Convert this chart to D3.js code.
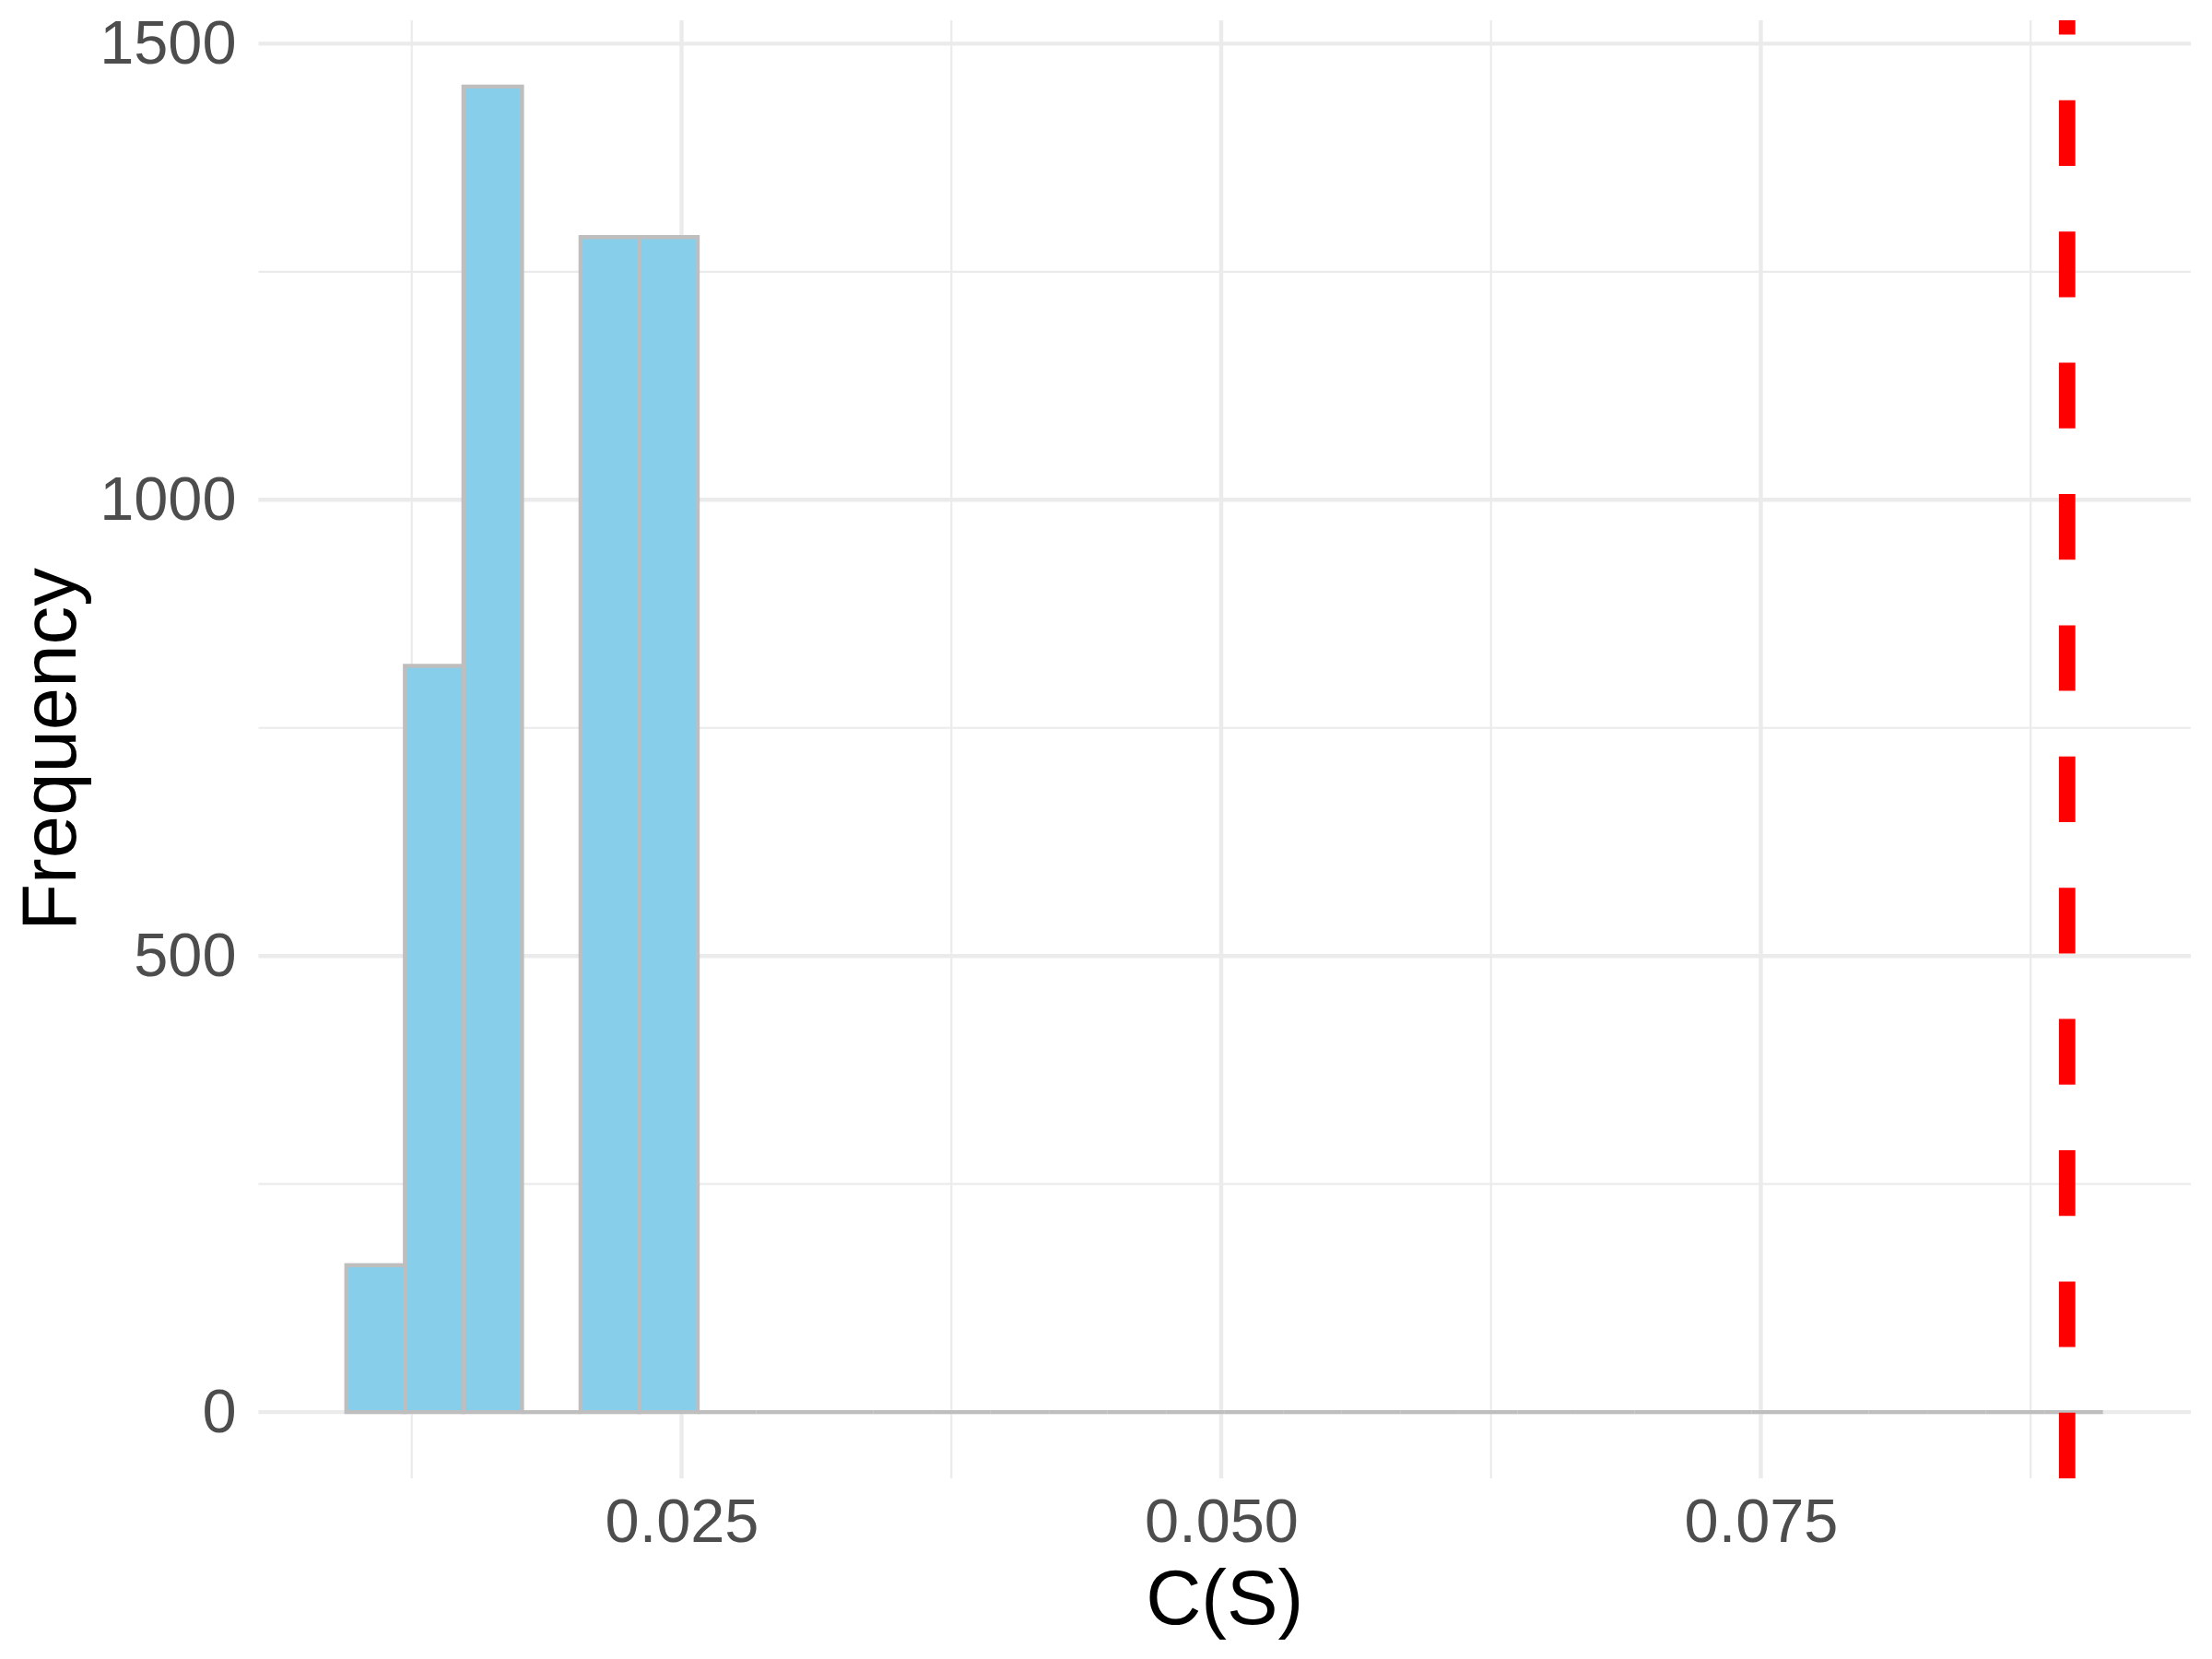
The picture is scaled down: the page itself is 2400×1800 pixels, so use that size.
<!DOCTYPE html>
<html lang="en">
<head>
    <meta charset="UTF-8">
    <title>Histogram of C(S)</title>
    <style>
        body, html {
            margin: 0;
            padding: 0;
            background: #fff;
            overflow: hidden;
        }
        text {
            font-family: "Liberation Sans", Arial, Helvetica, sans-serif;
        }
        .tick-label text {
            fill: #4D4D4D;
            font-size: 66.7px;
        }
        .axis-title {
            fill: #000;
            font-size: 83.3px;
        }
    </style>
</head>
<body>
    <script src="https://d3js.org/d3.v7.min.js"></script>
    <script>
        // histogram bins (30 bins)
        const binStart = 0.00947;
        const binWidth = 0.0027127;
        const counts = [161, 818, 1453, 0, 1288, 1288,
            0, 0, 0, 0, 0, 0, 0, 0, 0, 0, 0, 0,
            0, 0, 0, 0, 0, 0, 0, 0, 0, 0, 0, 0];

        // observed value (red dashed line)
        const observed = 0.08919;

        const xMajor = [0.025, 0.050, 0.075];
        const xMinor = [0.0125, 0.0375, 0.0625, 0.0875];
        const yMajor = [0, 500, 1000, 1500];
        const yMinor = [250, 750, 1250];

        const width = 2400;
        const height = 1800;
        const margin = { top: 22, right: 23, bottom: 196, left: 280.5 };

        const bins = counts.map((c, i) => ({
            x0: binStart + i * binWidth,
            x1: binStart + (i + 1) * binWidth,
            count: c
        }));

        const svg = d3.select("body").append("svg")
            .attr("width", width)
            .attr("height", height);

        // ggplot style 5% expansion
        const xLo = bins[0].x0, xHi = bins[bins.length - 1].x1;
        const xPad = (xHi - xLo) * 0.05;
        const yMax = d3.max(counts);
        const yPad = yMax * 0.05;

        const x = d3.scaleLinear()
            .domain([xLo - xPad, xHi + xPad])
            .range([margin.left, width - margin.right]);

        const y = d3.scaleLinear()
            .domain([-yPad, yMax + yPad])
            .range([1604, margin.top]);

        const [px0, px1] = x.range();
        const [py0, py1] = y.range();

        // grid
        const grid = svg.append("g");
        grid.selectAll(".hminor").data(yMinor).enter().append("line")
            .attr("x1", px0).attr("x2", px1)
            .attr("y1", d => y(d)).attr("y2", d => y(d))
            .attr("stroke", "#EBEBEB").attr("stroke-width", 2.2);
        grid.selectAll(".vminor").data(xMinor).enter().append("line")
            .attr("y1", py0).attr("y2", py1)
            .attr("x1", d => x(d)).attr("x2", d => x(d))
            .attr("stroke", "#EBEBEB").attr("stroke-width", 2.2);
        grid.selectAll(".hmajor").data(yMajor).enter().append("line")
            .attr("x1", px0).attr("x2", px1)
            .attr("y1", d => y(d)).attr("y2", d => y(d))
            .attr("stroke", "#EBEBEB").attr("stroke-width", 4.4);
        grid.selectAll(".vmajor").data(xMajor).enter().append("line")
            .attr("y1", py0).attr("y2", py1)
            .attr("x1", d => x(d)).attr("x2", d => x(d))
            .attr("stroke", "#EBEBEB").attr("stroke-width", 4.4);

        // bars as paths so that empty bins still get their outline
        svg.append("g").selectAll("path")
            .data(bins)
            .enter().append("path")
            .attr("d", d => {
                const a = x(d.x0), b = x(d.x1), y0 = y(0), y1 = y(d.count);
                return `M${a},${y0}V${y1}H${b}V${y0}Z`;
            })
            .attr("fill", "#87CEEB")
            .attr("stroke", "#BEBEBE")
            .attr("stroke-width", 4.4)
            .attr("stroke-linejoin", "miter");

        // observed value line, dashes start at the bottom like R does
        svg.append("line")
            .attr("x1", x(observed)).attr("x2", x(observed))
            .attr("y1", py0).attr("y2", py1)
            .attr("stroke", "red")
            .attr("stroke-width", 17.8)
            .attr("stroke-dasharray", "71.2 71.2");

        // axes (labels only)
        const xAxis = svg.append("g")
            .attr("class", "tick-label")
            .attr("transform", `translate(0,${py0})`)
            .call(d3.axisBottom(x).tickValues(xMajor)
                .tickFormat(d3.format(".3f")).tickSize(0).tickPadding(21.6));
        xAxis.select(".domain").remove();

        const yAxis = svg.append("g")
            .attr("class", "tick-label")
            .attr("transform", `translate(${px0},0)`)
            .call(d3.axisLeft(y).tickValues(yMajor)
                .tickFormat(d3.format("d")).tickSize(0).tickPadding(24));
        yAxis.select(".domain").remove();
        svg.selectAll(".tick-label").attr("font-size", null).attr("font-family", null);

        // titles
        svg.append("text")
            .attr("class", "axis-title")
            .attr("x", (px0 + px1) / 2)
            .attr("y", 1762)
            .attr("text-anchor", "middle")
            .text("C(S)");

        svg.append("text")
            .attr("class", "axis-title")
            .attr("transform", `translate(82,${(py0 + py1) / 2}) rotate(-90)`)
            .attr("text-anchor", "middle")
            .text("Frequency");
    </script>
</body>
</html>
